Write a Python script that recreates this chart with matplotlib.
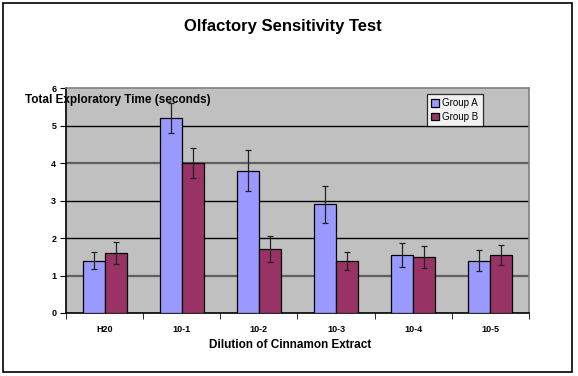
import matplotlib
matplotlib.use("Agg")
import matplotlib.pyplot as plt
from matplotlib.patches import Rectangle
import numpy as np

categories = ["H20", "10-1", "10-2", "10-3", "10-4", "10-5"]
group_a = [1.4, 5.2, 3.8, 2.9, 1.55, 1.4]
group_b = [1.6, 4.0, 1.7, 1.4, 1.5, 1.55]
err_a = [0.22, 0.4, 0.55, 0.5, 0.32, 0.28]
err_b = [0.3, 0.4, 0.35, 0.24, 0.3, 0.27]
yticks = [0, 1, 2, 3, 4, 5, 6]

plt.rcParams['font.family'] = ['Liberation Sans', 'DejaVu Sans']

W, H = 578, 376
fig = plt.figure(figsize=(W / 100, H / 100), dpi=100)
fig.patch.set_facecolor('white')

# outer border
fig.add_artist(Rectangle((3 / W, 1 - 372 / H), (572 - 3) / W, (372 - 3) / H,
                         transform=fig.transFigure, fill=False,
                         edgecolor='black', linewidth=1.2))

left, right, top, bottom = 66, 529, 88, 313
ax = fig.add_axes([left / W, 1 - bottom / H, (right - left) / W, (bottom - top) / H])
ax.set_facecolor('#C0C0C0')

x = np.arange(len(categories))
bw = 0.285
ax.bar(x - bw / 2, group_a, bw, color='#9999FF', edgecolor='black', linewidth=0.9,
       label='Group A', zorder=3)
ax.bar(x + bw / 2, group_b, bw, color='#993366', edgecolor='black', linewidth=0.9,
       label='Group B', zorder=3)
ax.errorbar(x - bw / 2, group_a, yerr=err_a, fmt='none', ecolor='#222222',
            elinewidth=0.9, capsize=2.5, capthick=0.9, zorder=4)
ax.errorbar(x + bw / 2, group_b, yerr=err_b, fmt='none', ecolor='#222222',
            elinewidth=0.9, capsize=2.5, capthick=0.9, zorder=4)

ax.set_xlim(-0.5, len(categories) - 0.5)
ax.set_ylim(0, 6)
ax.set_yticks(yticks)
ax.set_yticklabels([str(t) for t in yticks], fontsize=6.5, fontweight='bold')
for t in yticks[1:-1]:
    if t in (1, 4):
        ax.axhline(t, color='#606060', linewidth=1.6, zorder=1)
    else:
        ax.axhline(t, color='black', linewidth=1.0, zorder=1)

ax.set_xticks(x)
ax.set_xticklabels(categories, fontsize=6.5, fontweight='bold')
ax.set_xticks(np.arange(len(categories) + 1) - 0.5, minor=True)
ax.tick_params(axis='x', which='major', length=0, pad=9)
ax.tick_params(axis='x', which='minor', length=4, direction='out', color='black')
ax.tick_params(axis='y', length=4, direction='out', pad=3)

ax.spines['left'].set_color('black')
ax.spines['bottom'].set_color('black')
ax.spines['top'].set_color('#808080')
ax.spines['right'].set_color('#808080')
for s in ax.spines.values():
    s.set_linewidth(1.2)

fig.text(283 / W, 1 - 26 / H, "Olfactory Sensitivity Test", ha='center', va='center',
         fontsize=12, fontweight='bold')
fig.text(25 / W, 1 - 100 / H, "Total Exploratory Time (seconds)", ha='left', va='center',
         fontsize=8.5, fontweight='bold')
fig.text(290 / W, 1 - 345 / H, "Dilution of Cinnamon Extract", ha='center', va='center',
         fontsize=8.5, fontweight='bold')

leg = ax.legend(loc='upper left', bbox_to_anchor=((427 - left) / (right - left), (313 - 94) / (bottom - top)),
                fontsize=7, frameon=True, fancybox=False, edgecolor='black',
                handlelength=0.8, handleheight=0.8, handletextpad=0.3,
                borderpad=0.45, labelspacing=0.35, borderaxespad=0)
leg.get_frame().set_linewidth(0.9)
leg.get_frame().set_facecolor('white')
leg.set_zorder(5)

fig.savefig("out.png", dpi=100)
